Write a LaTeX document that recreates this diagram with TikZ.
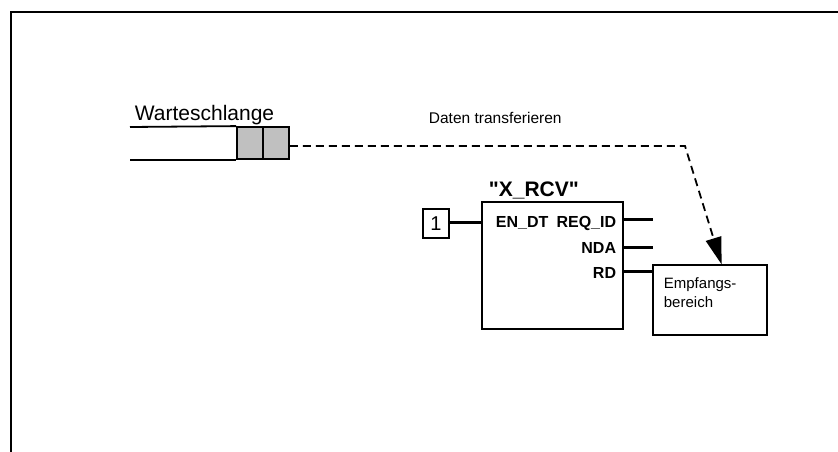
\documentclass[tikz,border=0pt]{standalone}
\usepackage{fontspec}
\setmainfont{Liberation Sans}[Ligatures=TeXOff]
\usetikzlibrary{positioning,arrows.meta,calc}
\definecolor{zellgrau}{RGB}{192,192,192}

\begin{document}
\begin{tikzpicture}[x=1pt,y=-1pt,>={Triangle[length=27pt,width=16pt]},
		line width=1.8pt,
		zelle/.style={draw,fill=zellgrau,minimum width=26pt,minimum height=32pt,inner sep=0pt},
		anschluss/.style={font=\fontsize{16}{18}\selectfont\bfseries,inner sep=0pt},
		baustein/.style={draw,line width=2.6pt,minimum width=141pt,minimum height=127pt,inner sep=0pt}]
		
		\useasboundingbox (0,0) rectangle (838,452);
		
		% Rahmen
		\draw[line width=2pt] (11,452)--(11,12)--(838,12);
		
		% Warteschlange
		\node[zelle] (zelle1) at (250,143){};
		\node[zelle] (zelle2) at (276,143){};
		\coordinate (qanfang) at (130,127);
		\draw (qanfang)--(zelle1.north west);
		\draw (qanfang |- zelle1.south)--(zelle1.south west);
		\node[anchor=base west,inner sep=0pt,font=\fontsize{21}{24}\selectfont] (wlabel) at (134,120){Warteschlange};
		
		% Empfangsbereich
		\node[draw,line width=1.4pt,minimum width=114pt,minimum height=70pt,inner sep=0pt] (ziel) at (710,300){};
		\node[anchor=base west,align=left,inner sep=0pt,font=\fontsize{15}{19}\selectfont] (zieltext) at (663,307){Empfangs-\\bereich};
		
		% Daten transferieren
		\coordinate (knick) at (685,146);
		\draw[dash pattern=on 8pt off 5pt,->] (zelle2.east |- knick)--(knick)--($(ziel.north west)!0.6!(ziel.north east)$);
		\node[anchor=base west,inner sep=0pt,font=\fontsize{15.5}{18}\selectfont] (dlabel) at (428,123){Daten transferieren};
		
		% Baustein X_RCV
		\node[baustein] (fb) at (552.5,265.5){};
		\node[anchor=base west,inner sep=0pt,font=\fontsize{21}{24}\selectfont\bfseries] (fbname) at (488,196){"X\_RCV"};
		
		\node[anschluss,anchor=base west] (endt) at (495,227){EN\_DT};
		\node[anschluss,anchor=base east] (reqid) at (617,227){REQ\_ID};
		\node[anschluss,anchor=base east] (nda) at (617,253){NDA};
		\node[anschluss,anchor=base east] (rd) at (617,278){RD};
		
		% Eingang
		\node[draw,line width=2pt,minimum width=26pt,minimum height=29pt,inner sep=0pt,font=\fontsize{20}{22}\selectfont] (eins) at (436,223.5){1};
		\draw[line width=3pt] (eins.east |- 0,222)--(fb.west |- 0,222);
		
		% Ausgaenge
		\coordinate (reqidend) at (653,219);
		\coordinate (ndaend) at (653,247);
		\draw[line width=3pt] (fb.east |- reqidend)--(reqidend);
		\draw[line width=3pt] (fb.east |- ndaend)--(ndaend);
		\draw[line width=3pt] (fb.east |- 0,271)--(ziel.west |- 0,271);
		
	\end{tikzpicture}
\end{document}
